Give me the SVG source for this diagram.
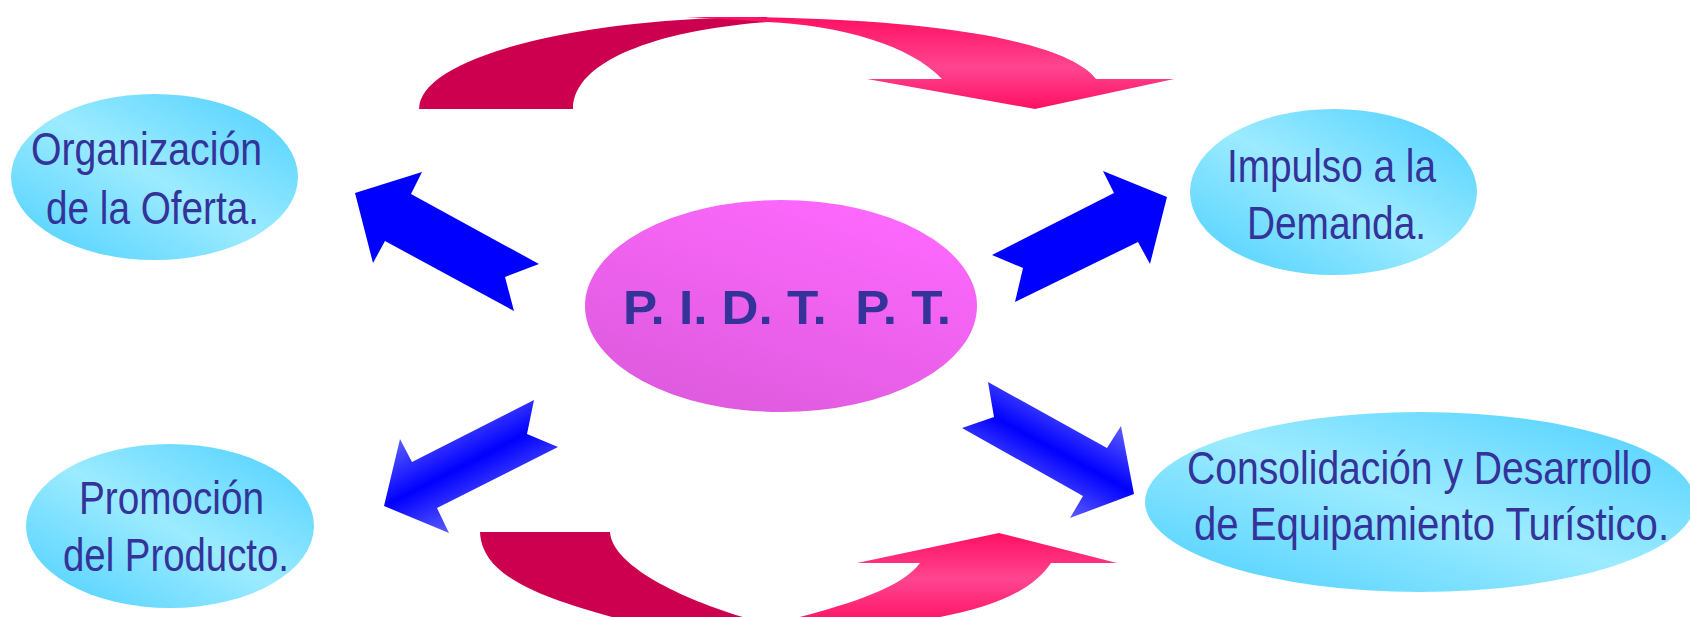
<svg xmlns="http://www.w3.org/2000/svg" width="1690" height="617" viewBox="0 0 1690 617">
<style>
.lbl{font-family:"Liberation Sans",Arial,sans-serif;font-size:46px;fill:#333399}
.ctr{font-family:"Liberation Sans",Arial,sans-serif;font-size:48px;font-weight:bold;fill:#333399}
.dark{fill:#CC004F}
.solid{fill:#0000FF}
</style>
<defs>
<linearGradient id="cyan" x1="0" y1="1" x2="1" y2="0">
<stop offset="0" stop-color="#4ACFFF"/>
<stop offset="0.5" stop-color="#9CEBFF"/>
<stop offset="1" stop-color="#4ACFFF"/>
</linearGradient>
<linearGradient id="mag" x1="0.2" y1="1" x2="0.8" y2="0">
<stop offset="0" stop-color="#DC5ADC"/>
<stop offset="1" stop-color="#FF69FF"/>
</linearGradient>
<linearGradient id="pinkTop" gradientUnits="userSpaceOnUse" x1="0" y1="17" x2="0" y2="109">
<stop offset="0" stop-color="#FF1062"/>
<stop offset="0.55" stop-color="#FF4590"/>
<stop offset="1" stop-color="#FF1062"/>
</linearGradient>
<linearGradient id="pinkBot" gradientUnits="userSpaceOnUse" x1="0" y1="533" x2="0" y2="625">
<stop offset="0" stop-color="#FF1062"/>
<stop offset="0.5" stop-color="#FF4590"/>
<stop offset="1" stop-color="#FF1062"/>
</linearGradient>
<linearGradient id="blueLL" gradientUnits="userSpaceOnUse" x1="430" y1="421" x2="480" y2="519">
<stop offset="0" stop-color="#6060FF"/>
<stop offset="0.5" stop-color="#0000FF"/>
<stop offset="1" stop-color="#6060FF"/>
</linearGradient>
<linearGradient id="blueLR" gradientUnits="userSpaceOnUse" x1="1090" y1="407" x2="1038" y2="503">
<stop offset="0" stop-color="#6060FF"/>
<stop offset="0.5" stop-color="#0000FF"/>
<stop offset="1" stop-color="#6060FF"/>
</linearGradient>
</defs>

<g id="connectors">
<path class="dark" d="M419 109 A348 92 0 0 1 767 17 L767 22 C660 30 573 60 573 109 Z"/>
<path fill="url(#pinkTop)" d="M686 17 C950 15 1070 45 1096 79 L1174 79 L1035 109 L867 79 L942 79 C910 45 840 25 767 22 C740 20 710 18 686 17 Z"/>
<path class="dark" d="M480 532 L610 532 C612 565 680 600 760 622 L630 622 C550 600 482 580 480 532 Z"/>
<path fill="url(#pinkBot)" d="M780 622 C840 607 900 590 920 563 L857 563 L999 533 L1117 563 L1051 563 C1030 595 980 612 910 622 Z"/>
<polygon class="solid" points="355,193 422,172 411,194 539,264 505,277 514,311 385,241 373,263"/>
<polygon class="solid" points="1167,197 1103,171 1114,193 992,255 1023,268 1015,302 1138,242 1150,264"/>
<polygon fill="url(#blueLL)" points="384,506 400,439 412,462 534,400 527,434 558,447 437,508 449,533"/>
<polygon fill="url(#blueLR)" points="1134,494 1121,426 1107,448 988,382 994,417 962,428 1083,496 1070,518"/>
</g>

<g id="node-center">
<ellipse cx="781" cy="306" rx="196" ry="106" fill="url(#mag)"/>
<text class="ctr" x="623" y="324" textLength="328" lengthAdjust="spacingAndGlyphs" xml:space="preserve">P. I. D. T.  P. T.</text>
</g>

<g id="node-organizacion">
<ellipse cx="154.5" cy="177" rx="143.5" ry="83" fill="url(#cyan)"/>
<text class="lbl" transform="translate(31,165) scale(0.82,1)" textLength="281.7" lengthAdjust="spacingAndGlyphs">Organización</text>
<text class="lbl" transform="translate(46,224) scale(0.82,1)" textLength="259.8" lengthAdjust="spacingAndGlyphs">de la Oferta.</text>
</g>

<g id="node-impulso">
<ellipse cx="1333.5" cy="192" rx="143.5" ry="83" fill="url(#cyan)"/>
<text class="lbl" transform="translate(1227,182) scale(0.82,1)" textLength="254.9" lengthAdjust="spacingAndGlyphs">Impulso a la</text>
<text class="lbl" transform="translate(1247,239) scale(0.82,1)" textLength="218.3" lengthAdjust="spacingAndGlyphs">Demanda.</text>
</g>

<g id="node-promocion">
<ellipse cx="170" cy="526" rx="144" ry="82" fill="url(#cyan)"/>
<text class="lbl" transform="translate(79,514) scale(0.82,1)" textLength="225.6" lengthAdjust="spacingAndGlyphs">Promoción</text>
<text class="lbl" transform="translate(63,571) scale(0.82,1)" textLength="275.6" lengthAdjust="spacingAndGlyphs">del Producto.</text>
</g>

<g id="node-consolidacion">
<ellipse cx="1420" cy="502" rx="275" ry="90" fill="url(#cyan)"/>
<text class="lbl" transform="translate(1187,484) scale(0.82,1)" textLength="567.1" lengthAdjust="spacingAndGlyphs">Consolidación y Desarrollo</text>
<text class="lbl" transform="translate(1194,540) scale(0.82,1)" textLength="579.3" lengthAdjust="spacingAndGlyphs">de Equipamiento Turístico.</text>
</g>
</svg>
